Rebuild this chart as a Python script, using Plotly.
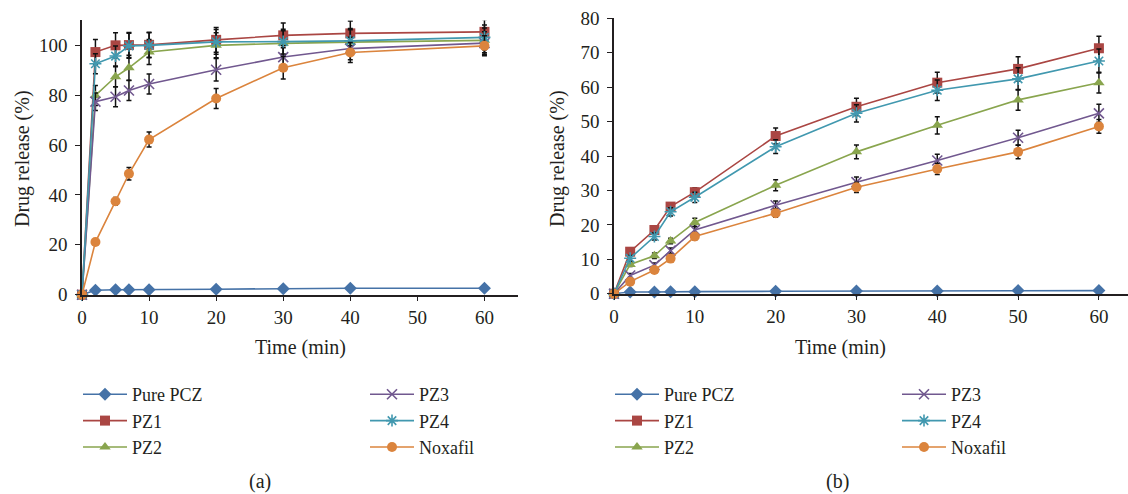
import plotly.graph_objects as go

# ---------------- data ----------------
series_names = ["Pure PCZ", "PZ1", "PZ2", "PZ3", "PZ4", "Noxafil"]
colors = ["#4572A7", "#AA4643", "#89A54E", "#71588F", "#4198AF", "#DB843D"]
symbols = ["diamond", "square", "triangle-up", "x-thin-open", "asterisk-open", "circle"]

time_a = [0, 2, 5, 7, 10, 20, 30, 40, 60]
pure_a = [0, 1.8, 2.0, 2.0, 2.0, 2.2, 2.4, 2.6, 2.6]
pz1_a = [0, 97.3, 100.0, 100.1, 100.2, 102.2, 104.0, 104.8, 105.4]
pz2_a = [0, 79.9, 87.4, 91.0, 97.3, 100.0, 100.8, 101.3, 102.0]
pz3_a = [0, 77.4, 79.4, 81.9, 84.5, 90.2, 95.3, 98.7, 100.9]
pz4_a = [0, 92.6, 95.7, 99.8, 100.0, 101.4, 101.5, 101.8, 103.2]
nox_a = [0, 21.1, 37.5, 48.5, 62.2, 78.7, 91.0, 97.1, 99.8]
err_pure_a = [0, 0.2, 0.2, 0.2, 0.2, 0.2, 0.2, 0.2, 0.2]
err_pz1_a = [0, 5, 5, 5, 5, 5, 5, 5, 5]
err_pz2_a = [0, 4, 4, 5, 5, 5, 5, 5, 5]
err_pz3_a = [0, 3.5, 4, 4, 4, 4.5, 4.5, 4.5, 4.5]
err_pz4_a = [0, 4, 4, 5, 5, 5, 5, 5, 5]
err_nox_a = [0, 1, 1.5, 2.5, 3, 4, 4.5, 4, 4]

time_b = [0, 2, 5, 7, 10, 20, 30, 40, 50, 60]
pure_b = [0, 0.5, 0.5, 0.6, 0.6, 0.7, 0.8, 0.8, 0.9, 0.9]
pz1_b = [0, 12.2, 18.5, 25.3, 29.5, 45.8, 54.3, 61.3, 65.3, 71.3]
pz2_b = [0, 8.5, 11.0, 15.3, 20.7, 31.5, 41.2, 48.9, 56.3, 61.3]
pz3_b = [0, 5.3, 8.3, 12.5, 18.5, 25.7, 32.4, 38.7, 45.3, 52.4]
pz4_b = [0, 10.3, 16.6, 23.8, 28.0, 42.7, 52.4, 59.1, 62.4, 67.6]
nox_b = [0, 3.5, 6.9, 10.2, 16.6, 23.4, 30.9, 36.2, 41.2, 48.6]
err_pure_b = [0, 0.1, 0.1, 0.1, 0.1, 0.1, 0.1, 0.1, 0.1, 0.1]
err_pz1_b = [0, 0.8, 1.0, 1.0, 1.3, 2.3, 2.5, 3.0, 3.5, 3.5]
err_pz2_b = [0, 0.6, 0.8, 0.8, 1.2, 1.6, 2.0, 2.5, 3.0, 3.0]
err_pz3_b = [0, 0.6, 0.6, 0.8, 1.0, 1.2, 1.5, 1.8, 2.2, 2.6]
err_pz4_b = [0, 0.8, 1.0, 1.2, 1.5, 2.0, 2.5, 3.0, 3.2, 3.5]
err_nox_b = [0, 0.6, 0.6, 0.8, 1.0, 1.2, 1.5, 1.6, 2.0, 2.0]

xticks = [0, 10, 20, 30, 40, 50, 60]
yticks_a = [0, 20, 40, 60, 80, 100]
yticks_b = [0, 10, 20, 30, 40, 50, 60, 70, 80]

FONT = "Liberation Serif"
TXT = "#231f20"

fig = go.Figure()

vals_a = [pure_a, pz1_a, pz2_a, pz3_a, pz4_a, nox_a]
errs_a = [err_pure_a, err_pz1_a, err_pz2_a, err_pz3_a, err_pz4_a, err_nox_a]
vals_b = [pure_b, pz1_b, pz2_b, pz3_b, pz4_b, nox_b]
errs_b = [err_pure_b, err_pz1_b, err_pz2_b, err_pz3_b, err_pz4_b, err_nox_b]

legend_of = {"Pure PCZ": 0, "PZ1": 0, "PZ2": 0, "PZ3": 1, "PZ4": 1, "Noxafil": 1}


def add_panel(times, vals, errs, xa, ya, legs):
    for i, name in enumerate(series_names):
        sym = symbols[i]
        open_sym = sym.endswith("open")
        fig.add_trace(go.Scatter(
            x=times, y=vals[i], name=name, mode="lines+markers",
            xaxis=xa, yaxis=ya,
            legend=legs[legend_of[name]], legendgroup=name + xa,
            line=dict(color=colors[i], width=1.6),
            marker=dict(symbol=sym, size=10, color=colors[i],
                        line=dict(color=colors[i], width=1.6 if open_sym else 0)),
            error_y=dict(type="data", array=errs[i], color="#111111",
                         thickness=1.5, width=2.5),
            cliponaxis=False,
        ))


add_panel(time_a, vals_a, errs_a, "x", "y", ["legend", "legend2"])
add_panel(time_b, vals_b, errs_b, "x2", "y2", ["legend3", "legend4"])

axis_common = dict(showline=True, linecolor="#231f20", linewidth=1.5,
                   ticks="outside", ticklen=5, tickwidth=1.3, tickcolor="#231f20",
                   showgrid=False, zeroline=False,
                   tickfont=dict(family=FONT, size=19, color=TXT))

fig.update_layout(
    width=1128, height=494,
    margin=dict(l=0, r=0, t=0, b=0, autoexpand=False),
    paper_bgcolor="white", plot_bgcolor="white",
    font=dict(family=FONT, size=18, color=TXT),
    xaxis=dict(domain=[82 / 1128, 518 / 1128], range=[0, 65], tickvals=xticks,
               anchor="y", **axis_common),
    yaxis=dict(domain=[(494 - 294.7) / 494, (494 - 20.4) / 494], range=[0, 110],
               tickvals=yticks_a, anchor="x", ticklabelstandoff=4, **axis_common),
    xaxis2=dict(domain=[614 / 1128, 1.0], range=[0, 63.6], tickvals=xticks,
                anchor="y2", **axis_common),
    yaxis2=dict(domain=[(494 - 293.7) / 494, (494 - 18.3) / 494], range=[0, 80],
                tickvals=yticks_b, anchor="x2", ticklabelstandoff=4, **axis_common),
)

leg_common = dict(orientation="v", xanchor="left", yanchor="top",
                  bgcolor="rgba(0,0,0,0)", borderwidth=0,
                  font=dict(family=FONT, size=18, color=TXT),
                  traceorder="grouped", tracegroupgap=0, itemwidth=44)
ytop = (494 - 376) / 494
fig.update_layout(
    legend=dict(x=78 / 1128, y=ytop, **leg_common),
    legend2=dict(x=365 / 1128, y=ytop, **leg_common),
    legend3=dict(x=610 / 1128, y=ytop, **leg_common),
    legend4=dict(x=897 / 1128, y=ytop, **leg_common),
)

annots = [
    dict(text="Drug release (%)", x=22, y=159, textangle=-90),
    dict(text="Drug release (%)", x=557, y=159, textangle=-90),
    dict(text="Time (min)", x=300, y=347),
    dict(text="Time (min)", x=840, y=347),
    dict(text="(a)", x=260, y=481),
    dict(text="(b)", x=837, y=481),
]
for a in annots:
    fig.add_annotation(text=a["text"], x=a["x"] / 1128, y=(494 - a["y"]) / 494,
                       xref="paper", yref="paper", showarrow=False,
                       xanchor="center", yanchor="middle",
                       textangle=a.get("textangle", 0),
                       font=dict(family=FONT, size=20, color=TXT))

fig.write_html("out.html")
